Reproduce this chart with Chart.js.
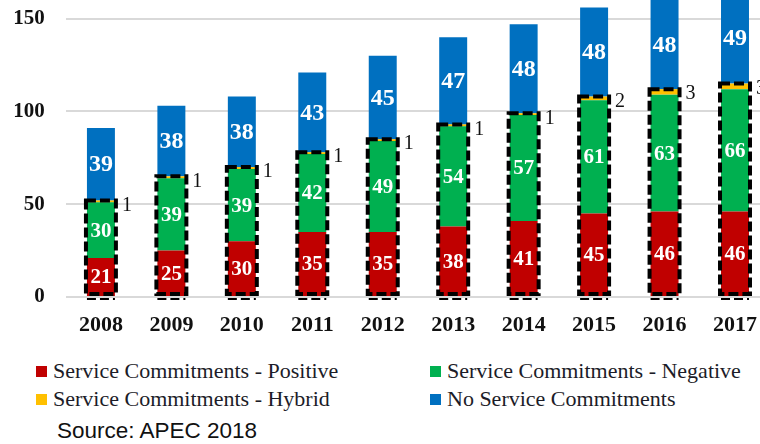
<!DOCTYPE html>
<html>
<head>
<meta charset="utf-8">
<script src="https://cdn.jsdelivr.net/npm/chart.js@4"></script>
<style>
  html, body { margin: 0; padding: 0; background: #fff; }
  body { width: 760px; height: 444px; overflow: hidden; position: relative; }
  #wrap { position: absolute; left: 0; top: -15px; width: 772px; height: 355px; }
  #legend {
    position: absolute; left: 36px; top: 357px;
    display: grid; grid-template-columns: 394px 330px; grid-auto-rows: 28px;
    font-family: "Liberation Serif", "Times New Roman", serif; font-size: 22px; color: #1c1c28;
  }
  .item { display: flex; align-items: center; white-space: nowrap; line-height: 28px; }
  .box { width: 11px; height: 11px; margin-right: 6px; flex: none; }
  #source {
    position: absolute; left: 57px; top: 418px;
    font-family: "Liberation Sans", Arial, sans-serif; font-size: 22.5px; color: #111;
  }
</style>
</head>
<body>
<div id="wrap"><canvas id="chart"></canvas></div>
<div id="legend"></div>
<div id="source">Source: APEC 2018</div>
<script>
const years = ['2008', '2009', '2010', '2011', '2012', '2013', '2014', '2015', '2016', '2017'];
const positive = [21, 25, 30, 35, 35, 38, 41, 45, 46, 46];
const negative = [30, 39, 39, 42, 49, 54, 57, 61, 63, 66];
const hybrid = [1, 1, 1, 1, 1, 1, 1, 2, 3, 3];
const noCommit = [39, 38, 38, 43, 45, 47, 48, 48, 48, 49];
const yMax = 150;
const yStep = 50;

const seriesNames = [
    'Service Commitments - Positive',
    'Service Commitments - Negative',
    'Service Commitments - Hybrid',
    'No Service Commitments'
];
const colors = ['#C00000', '#00B050', '#FFC000', '#0070C0'];

// dashed box round the three "service" segments, and the value labels
const overlay = {
    id: 'overlay',
    afterDatasetsDraw(chart) {
        const ctx = chart.ctx;
        const y = chart.scales.y;
        const zero = y.getPixelForValue(0);
        const top = chart.getDatasetMeta(2).data;

        ctx.save();
        ctx.strokeStyle = '#000';
        ctx.lineWidth = 4;
        ctx.setLineDash([10, 4]);
        top.forEach(bar => {
            const half = bar.width / 2 + 1;
            ctx.strokeRect(bar.x - half, bar.y, half * 2, zero - 3 - bar.y);
        });
        ctx.lineWidth = 2;
        ctx.setLineDash([9, 4]);
        top.forEach(bar => {
            ctx.beginPath();
            ctx.moveTo(bar.x - bar.width / 2, zero + 2);
            ctx.lineTo(bar.x + bar.width / 2, zero + 2);
            ctx.stroke();
        });
        ctx.restore();

        ctx.save();
        ctx.textAlign = 'center';
        ctx.textBaseline = 'middle';
        ctx.fillStyle = '#fff';
        [0, 1, 3].forEach(di => {
            ctx.font = (di === 3 ? 'bold 24px' : 'bold 21px') + ' "Liberation Serif", serif';
            chart.getDatasetMeta(di).data.forEach((bar, i) => {
                const c = bar.getCenterPoint();
                ctx.fillText(String(chart.data.datasets[di].data[i]), c.x, c.y + 1);
            });
        });
        ctx.fillStyle = '#111';
        ctx.textAlign = 'left';
        ctx.font = '20px "Liberation Serif", serif';
        top.forEach((bar, i) => {
            ctx.fillText(String(hybrid[i]), bar.x + bar.width / 2 + 7, bar.y + 5);
        });
        ctx.restore();
    }
};

const chart = new Chart(document.getElementById('chart'), {
    type: 'bar',
    data: {
        labels: years,
        datasets: [positive, negative, hybrid, noCommit].map((d, i) => ({
            label: seriesNames[i],
            data: d,
            backgroundColor: colors[i],
            borderWidth: 0,
            barPercentage: 0.397,
            categoryPercentage: 1,
            clip: false
        }))
    },
    options: {
        responsive: true,
        maintainAspectRatio: false,
        animation: false,
        layout: { padding: { left: 12, top: 3, right: 0, bottom: 0 } },
        plugins: {
            legend: { display: false },
            tooltip: { enabled: false }
        },
        scales: {
            x: {
                stacked: true,
                grid: { display: false, drawTicks: false },
                border: { display: false },
                afterFit: axis => { axis.height = 43; },
                ticks: {
                    padding: 15,
                    color: '#111',
                    font: { family: '"Liberation Serif", serif', size: 22, weight: 'bold' }
                }
            },
            y: {
                stacked: true,
                min: 0,
                max: yMax,
                afterFit: axis => { axis.width = 53.7; },
                grid: { color: '#d9d9d9', lineWidth: 2, drawTicks: false },
                border: { display: false },
                ticks: {
                    stepSize: yStep,
                    padding: 21,
                    color: '#111',
                    font: { family: '"Liberation Serif", serif', size: 21, weight: 'bold' }
                }
            }
        }
    },
    plugins: [overlay]
});

// html legend in two columns, built from the datasets
const legend = document.getElementById('legend');
chart.data.datasets.forEach(ds => {
    const item = document.createElement('div');
    item.className = 'item';
    const box = document.createElement('span');
    box.className = 'box';
    box.style.background = ds.backgroundColor;
    item.appendChild(box);
    item.appendChild(document.createTextNode(ds.label));
    legend.appendChild(item);
});
</script>
</body>
</html>
